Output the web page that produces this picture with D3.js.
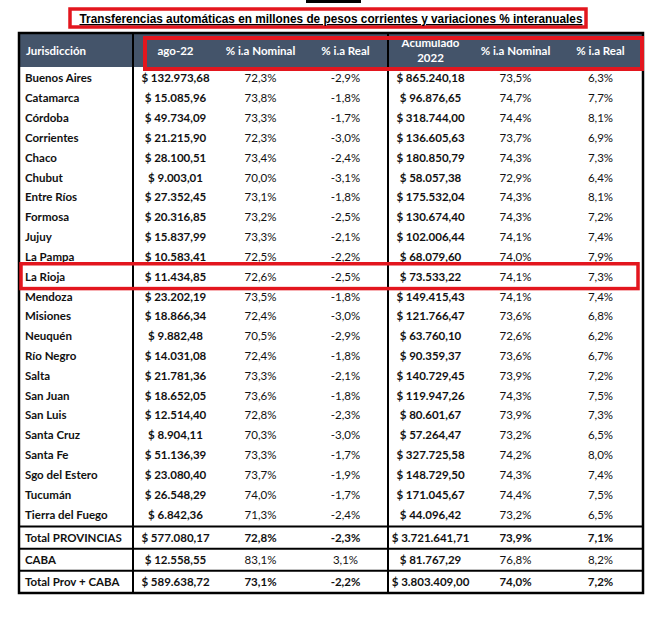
<!DOCTYPE html>
<html lang="es">
<head>
    <meta charset="UTF-8">
    <title>Transferencias automáticas</title>
    <script src="https://d3js.org/d3.v7.min.js"></script>
    <style>
        body { margin: 0; background: #fff; }
        .cell { font-family: Lato, "Open Sans", sans-serif; font-size: 11.5px; fill: #111; }
        .bold { font-weight: bold; }
        .head { font-family: Lato, "Open Sans", sans-serif; font-size: 11.5px; font-weight: bold; fill: #fff; }
        .title { font-family: "Liberation Sans", Arial, sans-serif; font-size: 12.2px; font-weight: bold; text-decoration: underline; }
    </style>
</head>
<body>
    <div id="chart"></div>
    <script>
        const jurisdicciones = ["Buenos Aires", "Catamarca", "Córdoba", "Corrientes", "Chaco", "Chubut", "Entre Ríos",
            "Formosa", "Jujuy", "La Pampa", "La Rioja", "Mendoza", "Misiones", "Neuquén", "Río Negro", "Salta",
            "San Juan", "San Luis", "Santa Cruz", "Santa Fe", "Sgo del Estero", "Tucumán", "Tierra del Fuego"];
        const agoMonto = [132973.68, 15085.96, 49734.09, 21215.90, 28100.51, 9003.01, 27352.45, 20316.85, 15837.99,
            10583.41, 11434.85, 23202.19, 18866.34, 9882.48, 14031.08, 21781.36, 18652.05, 12514.40, 8904.11,
            51136.39, 23080.40, 26548.29, 6842.36];
        const agoNominal = [72.3, 73.8, 73.3, 72.3, 73.4, 70.0, 73.1, 73.2, 73.3, 72.5, 72.6, 73.5, 72.4, 70.5, 72.4,
            73.3, 73.6, 72.8, 70.3, 73.3, 73.7, 74.0, 71.3];
        const agoReal = [-2.9, -1.8, -1.7, -3.0, -2.4, -3.1, -1.8, -2.5, -2.1, -2.2, -2.5, -1.8, -3.0, -2.9, -1.8,
            -2.1, -1.8, -2.3, -3.0, -1.7, -1.9, -1.7, -2.4];
        const acumMonto = [865240.18, 96876.65, 318744.00, 136605.63, 180850.79, 58057.38, 175532.04, 130674.40,
            102006.44, 68079.60, 73533.22, 149415.43, 121766.47, 63760.10, 90359.37, 140729.45, 119947.26, 80601.67,
            57264.47, 327725.58, 148729.50, 171045.67, 44096.42];
        const acumNominal = [73.5, 74.7, 74.4, 73.7, 74.3, 72.9, 74.3, 74.3, 74.1, 74.0, 74.1, 74.1, 73.6, 72.6, 73.6,
            73.9, 74.3, 73.9, 73.2, 74.2, 74.3, 74.4, 73.2];
        const acumReal = [6.3, 7.7, 8.1, 6.9, 7.3, 6.4, 8.1, 7.2, 7.4, 7.9, 7.3, 7.4, 6.8, 6.2, 6.7, 7.2, 7.5, 7.3,
            6.5, 8.0, 7.4, 7.5, 6.5];

        const totalesNombres = ["Total PROVINCIAS", "CABA", "Total Prov + CABA"];
        const totalesAgoMonto = [577080.17, 12558.55, 589638.72];
        const totalesAgoNominal = [72.8, 83.1, 73.1];
        const totalesAgoReal = [-2.3, 3.1, -2.2];
        const totalesAcumMonto = [3721641.71, 81767.29, 3803409.00];
        const totalesAcumNominal = [73.9, 76.8, 74.0];
        const totalesAcumReal = [7.1, 8.2, 7.2];

        const encabezados = ["ago-22", "% i.a Nominal", "% i.a Real", "Acumulado|2022", "% i.a Nominal", "% i.a Real"];
        const titulo = "Transferencias automáticas en millones de pesos corrientes y variaciones % interanuales";
        const destacada = "La Rioja";

        const es = d3.formatLocale({decimal: ",", thousands: ".", grouping: [3], currency: ["$ ", ""], minus: "-"});
        const fmtMonto = es.format("$,.2f");
        const fmtPct = v => es.format(".1f")(v) + "%";

        const W = 662, H = 617;
        const tLeft = 19, tRight = 643, tTop = 33, headBottom = 67, tBottom = 593;
        const nameX = 133, red = "#e3161e";

        const svg = d3.select("#chart").append("svg")
            .attr("width", W)
            .attr("height", H);

        const cols = ["agoMonto", "agoNominal", "agoReal", "acumMonto", "acumNominal", "acumReal"];
        const x = d3.scaleBand().domain(cols).range([nameX, tRight]);

        const yProv = d3.scaleBand().domain(jurisdicciones).range([68.5, 524.5]);
        const yTot = d3.scaleBand().domain(totalesNombres).range([526.5, tBottom]);

        const provRows = jurisdicciones.map((d, i) => ({
            name: d, y: yProv(d) + yProv.bandwidth() / 2, total: false,
            vals: [agoMonto[i], agoNominal[i], agoReal[i], acumMonto[i], acumNominal[i], acumReal[i]]
        }));
        const totRows = totalesNombres.map((d, i) => ({
            name: d, y: yTot(d) + yTot.bandwidth() / 2, total: i !== 1,
            vals: [totalesAgoMonto[i], totalesAgoNominal[i], totalesAgoReal[i], totalesAcumMonto[i], totalesAcumNominal[i], totalesAcumReal[i]]
        }));
        const rows = provRows.concat(totRows);

        // little cut-off line at the top
        svg.append("line").attr("x1", 306).attr("x2", 361).attr("y1", 1.5).attr("y2", 1.5)
            .attr("stroke", "#000").attr("stroke-width", 3);

        // title
        svg.append("rect").attr("x", 70).attr("y", 9).attr("width", 516).attr("height", 18)
            .attr("fill", "#fff").attr("stroke", red).attr("stroke-width", 3.5);
        svg.append("text").attr("class", "title")
            .attr("x", 331).attr("y", 23)
            .attr("text-anchor", "middle")
            .attr("textLength", 503).attr("lengthAdjust", "spacingAndGlyphs")
            .text(titulo);

        // header
        svg.append("rect").attr("x", tLeft).attr("y", tTop).attr("width", tRight - tLeft).attr("height", headBottom - tTop)
            .attr("fill", "#44546a");
        svg.append("text").attr("class", "head").attr("x", 26).attr("y", 50.5).attr("dy", "0.35em").text("Jurisdicción");
        encabezados.forEach((h, i) => {
            const lines = h.split("|");
            const cx = x(cols[i]) + x.bandwidth() / 2;
            const t = svg.append("text").attr("class", "head")
                .attr("text-anchor", "middle");
            lines.forEach((l, j) => {
                t.append("tspan").attr("x", cx)
                    .attr("y", 50.5 + (j - (lines.length - 1) / 2) * 15).attr("dy", "0.35em").text(l);
            });
        });

        // body
        const g = svg.selectAll(".row").data(rows).enter().append("g").attr("class", "row");
        g.append("text").attr("class", "cell bold")
            .attr("x", 25).attr("y", d => d.y).attr("dy", "0.35em")
            .text(d => d.name);
        cols.forEach((c, i) => {
            g.append("text")
                .attr("class", d => "cell" + (i === 0 || i === 3 || d.total ? " bold" : ""))
                .attr("x", x(c) + x.bandwidth() / 2)
                .attr("y", d => d.y).attr("dy", "0.35em")
                .attr("text-anchor", "middle")
                .text(d => (i === 0 || i === 3) ? fmtMonto(d.vals[i]) : fmtPct(d.vals[i]));
        });

        // grid lines
        const lineY = totalesNombres.map(d => yTot(d));
        svg.selectAll(".hline").data(lineY).enter().append("line")
            .attr("x1", tLeft).attr("x2", tRight).attr("y1", d => d).attr("y2", d => d)
            .attr("stroke", "#000").attr("stroke-width", 2);
        svg.selectAll(".vline").data([nameX, x("acumMonto")]).enter().append("line")
            .attr("x1", d => d).attr("x2", d => d).attr("y1", tTop).attr("y2", tBottom)
            .attr("stroke", "#000").attr("stroke-width", 2);
        svg.append("rect").attr("x", tLeft).attr("y", tTop).attr("width", tRight - tLeft).attr("height", tBottom - tTop)
            .attr("fill", "none").attr("stroke", "#000").attr("stroke-width", 2.5);

        // red highlight boxes
        svg.append("rect").attr("x", 145).attr("y", 38).attr("width", 497).attr("height", 31)
            .attr("fill", "none").attr("stroke", red).attr("stroke-width", 4);
        const yr = yProv(destacada);
        svg.append("rect").attr("x", 21).attr("y", yr - 3).attr("width", 617).attr("height", yProv.bandwidth() + 5)
            .attr("fill", "none").attr("stroke", red).attr("stroke-width", 3.5);
    </script>
</body>
</html>
